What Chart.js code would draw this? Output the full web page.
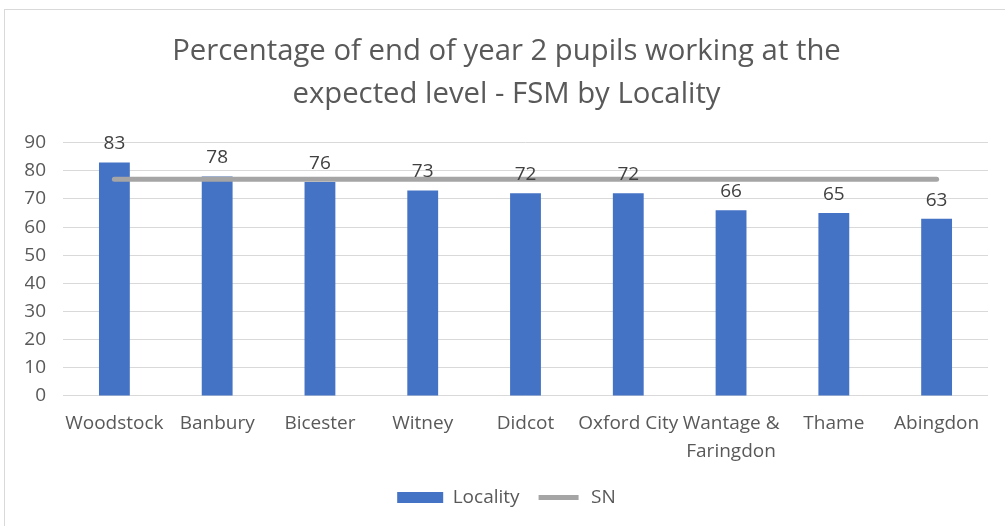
<!DOCTYPE html>
<html><head><meta charset="utf-8">
<script src="https://cdn.jsdelivr.net/npm/chart.js@4"></script>
<style>
html,body{margin:0;padding:0;background:#fff;}
#wrap{position:absolute;left:0;top:0;width:1005px;height:526px;}
#frame{position:absolute;left:4px;top:9px;width:1010px;height:530px;border:1px solid #d9d9d9;box-sizing:border-box;}
canvas{position:absolute;left:0;top:0;}
</style></head>
<body>
<div id="wrap"><div id="frame"></div><canvas id="c" width="1005" height="526"></canvas></div>
<script>
const categories = ["Woodstock","Banbury","Bicester","Witney","Didcot","Oxford City",["Wantage &","Faringdon"],"Thame","Abingdon"];
const localityValues = [83,78,76,73,72,72,66,65,63];
const snValues = [77,77,77,77,77,77,77,77,77];
const yTicks = [0,10,20,30,40,50,60,70,80,90];
const titleLines = ["Percentage of end of year 2 pupils working at the","expected level - FSM by Locality"];

const FONT = "'Open Sans', sans-serif";
const TXT = "#595959";

const barLabels = {
  id:'barLabels',
  afterDatasetsDraw(chart){
    const ctx = chart.ctx;
    const meta = chart.getDatasetMeta(1);
    ctx.save();
    ctx.font = "19px " + FONT;
    ctx.fillStyle = "#404040";
    ctx.textAlign = "center";
    ctx.textBaseline = "bottom";
    meta.data.forEach((bar,i)=>{
      ctx.fillText(String(localityValues[i]), bar.x, bar.y - 9);
    });
    ctx.restore();
  }
};

new Chart(document.getElementById('c'), {
  type:'bar',
  data:{
    labels: categories,
    datasets:[
      {type:'line', label:'SN', data:snValues, borderColor:'#A5A5A5', backgroundColor:'#A5A5A5', borderWidth:5, pointRadius:0, borderCapStyle:'round', order:0},
      {type:'bar', label:'Locality', data:localityValues, backgroundColor:'#4472C4', borderWidth:0, barPercentage:0.30, categoryPercentage:1, order:1}
    ]
  },
  plugins:[barLabels],
  options:{
    responsive:false,
    animation:false,
    layout:{padding:{left:25,right:17,top:14,bottom:9}},
    plugins:{
      tooltip:{enabled:false},
      title:{display:true, text:titleLines, color:TXT, font:{family:FONT, size:29.3, weight:'normal', lineHeight:1.48}, padding:{top:16,bottom:26}},
      legend:{
        position:'bottom',
        labels:{
          color:TXT, font:{family:FONT,size:19}, boxWidth:46, boxHeight:11, padding:16,
          generateLabels(){
            return [
              {text:'Locality', fillStyle:'#4472C4', strokeStyle:'#4472C4', lineWidth:0, datasetIndex:1, fontColor:TXT},
              {text:'SN', fillStyle:'#A5A5A5', strokeStyle:'#ffffff', lineWidth:6, datasetIndex:0, fontColor:TXT}
            ];
          }
        }
      }
    },
    scales:{
      x:{
        grid:{display:false},
        border:{display:false},
        ticks:{color:TXT, font:{family:FONT,size:19,lineHeight:1.45}, maxRotation:0, autoSkip:false, padding:6},
        afterFit(scale){ scale.paddingLeft = 0; scale.paddingRight = 0; scale.height += 1; }
      },
      y:{
        min:0, max:90,
        afterBuildTicks(axis){ axis.ticks = yTicks.map(v=>({value:v})); },
        afterFit(scale){ scale.width = 38; },
        grid:{color:'#D9D9D9', lineWidth:1, drawTicks:false},
        border:{display:false},
        ticks:{color:TXT, font:{family:FONT,size:19}, padding:17}
      }
    }
  }
});
</script>
</body></html>
